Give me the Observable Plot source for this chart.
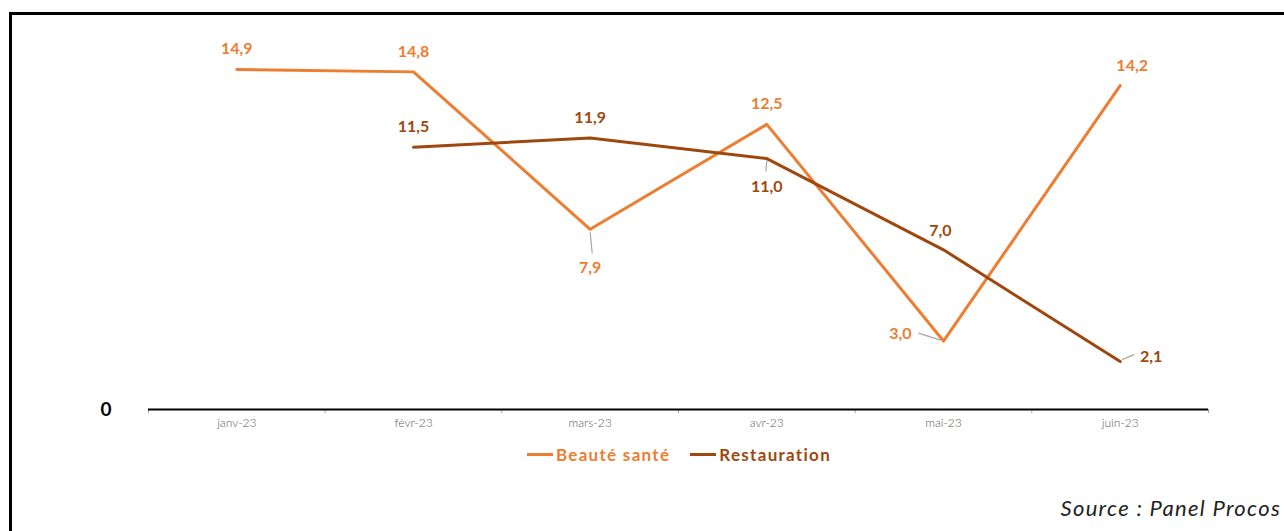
<!DOCTYPE html>
<html>
<head>
<meta charset="utf-8">
<script src="https://cdn.jsdelivr.net/npm/d3@7"></script>
<script src="https://cdn.jsdelivr.net/npm/@observablehq/plot@0.6"></script>
<style>
  html, body { margin: 0; padding: 0; background: #fff; width: 1284px; height: 531px; overflow: hidden; font-family: Lato, "DejaVu Sans", sans-serif; }
  #frame { position: absolute; left: 9px; top: 12px; width: 1400px; height: 700px; border: 3px solid #000; box-sizing: border-box; }
  #chart { position: absolute; left: 0; top: 0; }
  #legend { position: absolute; top: 444px; left: 0; width: 1358px; display: flex; justify-content: center; gap: 20px; font-weight: bold; font-size: 17px; letter-spacing: 1.3px; }
  #legend .item { display: flex; align-items: center; }
  #legend .sw { display: inline-block; width: 26px; height: 3px; margin-right: 3px; }
  #source { position: absolute; top: 494px; right: 3px; font-style: italic; font-size: 22px; letter-spacing: 1.3px; color: #222; }
</style>
</head>
<body>
<div id="frame"></div>
<div id="chart"></div>
<div id="legend"></div>
<div id="source">Source : Panel Procos</div>
<script>
const months = ["janv-23", "févr-23", "mars-23", "avr-23", "mai-23", "juin-23"];
const seriesNames = ["Beauté santé", "Restauration"];
const beaute = [14.9, 14.8, 7.9, 12.5, 3.0, 14.2];
const restauration = [null, 11.5, 11.9, 11.0, 7.0, 2.1];
const colors = ["#ED7D31", "#9E480E"];

// label placement (pixel offsets) per series / month index
const labelOffsets = {
  "Beauté santé": [[0, -21], [0, -20], [0, 39], [0, -20], [-43, -7], [12, -20]],
  "Restauration": [null, [0, -20], [0, -20], [0, 28], [-3, -19], [31, -5]]
};
// leader lines: [series, index, [x1,y1], [x2,y2]] pixel offsets from point
const leaders = [
  ["Beauté santé", 2, [0, 3], [2, 24]],
  ["Beauté santé", 4, [-3, -1], [-25, -8]],
  ["Restauration", 3, [0, 2], [-1, 13]],
  ["Restauration", 5, [2, -2], [14, -7]]
];

const W = 1284, H = 440, mL = 148, mR = 76, mT = 44, mB = 31;
const xDomain = [-0.5, 5.5], yDomain = [0, 16];
const pxX = (W - mL - mR) / (xDomain[1] - xDomain[0]);
const pxY = (H - mT - mB) / (yDomain[1] - yDomain[0]);

const data = [];
seriesNames.forEach((s, k) => {
  const vals = k === 0 ? beaute : restauration;
  vals.forEach((v, i) => { if (v != null) data.push({s, i, v, month: months[i]}); });
});
const fmt = v => d3.format(".1f")(v).replace(".", ",");

const labelMarks = data.map(d => {
  const off = labelOffsets[d.s][d.i];
  return Plot.text([d], {
    x: "i", y: "v", text: r => fmt(r.v), dx: off[0], dy: off[1],
    fill: colors[seriesNames.indexOf(d.s)], fontWeight: "bold", fontSize: 16
  });
});

const leaderData = leaders.map(([s, i, a, b]) => {
  const d = data.find(r => r.s === s && r.i === i);
  return {x1: d.i + a[0] / pxX, y1: d.v - a[1] / pxY, x2: d.i + b[0] / pxX, y2: d.v - b[1] / pxY};
});

const chart = Plot.plot({
  width: W, height: H,
  marginLeft: mL, marginRight: mR, marginTop: mT, marginBottom: mB,
  x: {type: "linear", domain: xDomain},
  y: {domain: yDomain},
  color: {domain: seriesNames, range: colors},
  style: {fontFamily: "Lato, 'DejaVu Sans', sans-serif", background: "transparent", overflow: "visible"},
  marks: [
    Plot.axisX({ticks: d3.range(-0.5, 6, 1), tickSize: 4, tickFormat: () => "", stroke: "#a6a6a6", label: null}),
    Plot.axisX({ticks: d3.range(0, 6), tickSize: 0, tickPadding: 9, tickFormat: i => months[i], fill: "#595959", fontSize: 12, fontWeight: 300, label: null}),
    Plot.axisY({ticks: [0], tickSize: 0, tickPadding: 37, tickFormat: d => String(d), fontSize: 19, fontWeight: "bold", fill: "#000", label: null}),
    Plot.ruleY([0], {stroke: "#000", strokeWidth: 2}),
    Plot.link(leaderData, {x1: "x1", y1: "y1", x2: "x2", y2: "y2", stroke: "#a6a6a6", strokeWidth: 1.2}),
    Plot.line(data, {x: "i", y: "v", stroke: "s", z: "s", strokeWidth: 3}),
    ...labelMarks
  ]
});
document.getElementById("chart").appendChild(chart);

const legend = document.getElementById("legend");
seriesNames.forEach((s, k) => {
  const it = document.createElement("span");
  it.className = "item";
  it.style.color = colors[k];
  it.innerHTML = `<span class="sw" style="background:${colors[k]}"></span>${s}`;
  legend.appendChild(it);
});
</script>
</body>
</html>
